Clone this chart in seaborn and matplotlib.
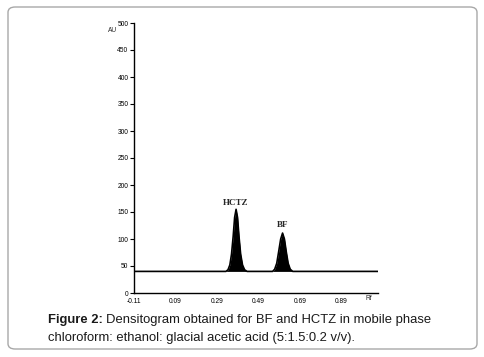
import matplotlib
matplotlib.use("Agg")
import matplotlib.pyplot as plt
import seaborn as sns
import pandas as pd
from matplotlib.patches import FancyBboxPatch

# Data
rf_trace = [-0.11, 0.333, 0.343, 0.352, 0.360, 0.368, 0.375, 0.382, 0.389, 0.396,
            0.404, 0.413, 0.423, 0.435,
            0.558, 0.568, 0.578, 0.587, 0.597, 0.606, 0.615, 0.624, 0.633, 0.643,
            0.655, 1.066]
au_trace = [40, 40, 43, 52, 72, 105, 140, 155, 140, 105,
            72, 52, 43, 40,
            40, 44, 55, 76, 100, 111, 100, 76, 55, 44,
            40, 40]
baseline = 40
peak_names = ["HCTZ", "BF"]
peak_rf = [0.382, 0.606]
peak_label_au = [167, 126]
x_ticks = [-0.11, 0.09, 0.29, 0.49, 0.69, 0.89]
x_tick_labels = ["-0.11", "0.09", "0.29", "0.49", "0.69", "0.89"]
y_ticks = [0, 50, 100, 150, 200, 250, 300, 350, 400, 450, 500]

sns.set_style("ticks")
plt.rcParams["font.family"] = ["Liberation Sans", "DejaVu Sans"]

fig = plt.figure(figsize=(4.85, 3.57), dpi=100)
ax = fig.add_axes([134 / 485, 1 - 293 / 357, (378 - 134) / 485, (293 - 23) / 357])

df = pd.DataFrame({"Rf": rf_trace, "AU": au_trace})
sns.lineplot(data=df, x="Rf", y="AU", ax=ax, color="black", linewidth=1.2,
             sort=False, estimator=None)
ax.fill_between(df["Rf"], baseline, df["AU"], color="black", linewidth=0)

ax.set_xlim(-0.11, 1.066)
ax.set_ylim(0, 500)
ax.set_xticks(x_ticks)
ax.set_xticklabels(x_tick_labels)
ax.set_yticks(y_ticks)
ax.set_yticklabels([str(v) for v in y_ticks])
ax.tick_params(axis="both", labelsize=4.8, length=3, width=0.8, pad=1, colors="black")
ax.tick_params(axis="x", length=0, pad=3.5)
ax.set_xlabel("")
ax.set_ylabel("")
for side in ["top", "right"]:
    ax.spines[side].set_visible(False)
for side in ["left", "bottom"]:
    ax.spines[side].set_linewidth(1.0)
    ax.spines[side].set_color("black")

for name, rf, au in zip(peak_names, peak_rf, peak_label_au):
    ax.text(rf, au, name, ha="center", va="center", fontsize=6.5,
            family="Liberation Serif", fontweight="bold")

fig.text(113 / 485, 1 - 31 / 357, "AU", fontsize=4.8, ha="center", va="center")
fig.text(369 / 485, 1 - 298 / 357, "Rf", fontsize=4.8, ha="center", va="center")

# Border box
box = FancyBboxPatch((8 / 485, 1 - 349 / 357), (477 - 8) / 485, (349 - 7) / 357,
                     boxstyle="round,pad=0,rounding_size=0.015",
                     transform=fig.transFigure, facecolor="none",
                     edgecolor="#a8a8a8", linewidth=1.0)
fig.patches.append(box)

# Caption
fig.canvas.draw()
r = fig.canvas.get_renderer()
t1 = fig.text(48 / 485, 1 - 320 / 357, "Figure 2:", fontsize=9.4, fontweight="bold",
              ha="left", va="center", color="#1a1a1a")
bb = t1.get_window_extent(renderer=r)
fig.text(bb.x1 / fig.bbox.width + 0.007, 1 - 320 / 357,
         "Densitogram obtained for BF and HCTZ in mobile phase",
         fontsize=9.4, ha="left", va="center", color="#1a1a1a")
fig.text(48 / 485, 1 - 338 / 357,
         "chloroform: ethanol: glacial acetic acid (5:1.5:0.2 v/v).",
         fontsize=9.4, ha="left", va="center", color="#1a1a1a")

fig.savefig("out.png", dpi=100)
